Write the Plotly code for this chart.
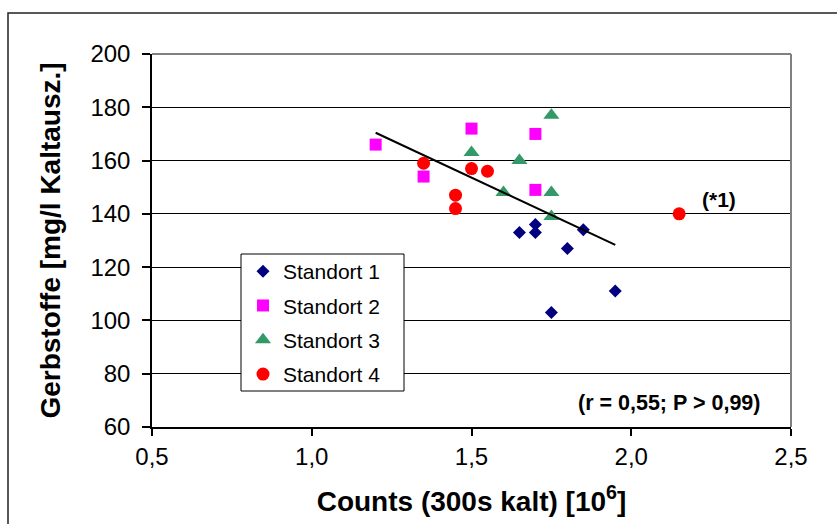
import numpy as np
import plotly.graph_objects as go

# Counts (300s kalt) in 10^6 and Gerbstoffe in mg/l Kaltauszug, per Standort
s1_x = [1.65, 1.70, 1.70, 1.80, 1.85, 1.95, 1.75]
s1_y = [133, 136, 133, 127, 134, 111, 103]

s2_x = [1.20, 1.50, 1.70, 1.35, 1.70]
s2_y = [166, 172, 170, 154, 149]

s3_x = [1.75, 1.50, 1.65, 1.60, 1.75, 1.75]
s3_y = [177, 163, 160, 148, 148, 139]

s4_x = [1.35, 1.50, 1.55, 1.45, 1.45, 2.15]
s4_y = [159, 157, 156, 147, 142, 140]

# the last point of Standort 4 is the marked outlier (*1), left out of the fit
outlier_index = 5

x_ticks = [0.5, 1.0, 1.5, 2.0, 2.5]
y_ticks = [60, 80, 100, 120, 140, 160, 180, 200]

series = [
    ("Standort 1", s1_x, s1_y, "diamond", "#000080", 10),
    ("Standort 2", s2_x, s2_y, "square", "#FF00FF", 12),
    ("Standort 3", s3_x, s3_y, "triangle-up", "#339966", 14),
    ("Standort 4", s4_x, s4_y, "circle", "#FF0000", 13),
]

fig = go.Figure()
for name, xs, ys, sym, col, size in series:
    fig.add_trace(go.Scatter(
        x=xs, y=ys, mode="markers", name=name, legendgroup=name,
        marker=dict(symbol=sym, color=col, size=size, line=dict(width=0)),
    ))

# linear trend over all points except the outlier
fit_x = np.array(s1_x + s2_x + s3_x + [v for i, v in enumerate(s4_x) if i != outlier_index])
fit_y = np.array(s1_y + s2_y + s3_y + [v for i, v in enumerate(s4_y) if i != outlier_index])
slope, intercept = np.polyfit(fit_x, fit_y, 1)
line_x = np.array([fit_x.min(), fit_x.max()])
fig.add_trace(go.Scatter(
    x=line_x, y=slope * line_x + intercept, mode="lines",
    line=dict(color="black", width=2), showlegend=False, hoverinfo="skip",
))

W, H = 837, 524
L, R, T, B = 152, 46, 54, 97
pw, ph = W - L - R, H - T - B


def px_x(v):
    return (v - L) / pw


def px_y(v):
    return (H - B - v) / ph


fig.update_layout(
    width=W, height=H,
    margin=dict(l=L, r=R, t=T, b=B),
    paper_bgcolor="white", plot_bgcolor="white",
    separators=",.",
    font=dict(family="Liberation Sans, Arial, sans-serif", color="black"),
    showlegend=True,
    legend=dict(
        x=px_x(243), y=px_y(251), xanchor="left", yanchor="top",
        bgcolor="rgba(0,0,0,0)", borderwidth=0,
        font=dict(size=21), tracegroupgap=4, itemwidth=30,
    ),
    xaxis=dict(
        range=[0.5, 2.5], tickvals=x_ticks, tickformat=".1f",
        showgrid=False, zeroline=False,
        showline=True, linecolor="black", linewidth=1.5,
        ticks="outside", ticklen=7, tickcolor="black", tickwidth=1.5,
        tickfont=dict(size=24),
        title=dict(text="<b>Counts (300s kalt) [10<sup>6</sup>]</b>",
                   font=dict(size=28), standoff=23),
    ),
    yaxis=dict(
        range=[60, 200], tickvals=y_ticks,
        showgrid=True, gridcolor="black", gridwidth=1, zeroline=False,
        showline=True, linecolor="black", linewidth=1.5,
        ticks="outside", ticklen=8, tickcolor="black", tickwidth=1.5,
        tickfont=dict(size=24), ticklabelstandoff=7,
        title=dict(text="<b>Gerbstoffe [mg/l Kaltausz.]</b>",
                   font=dict(size=28), standoff=22),
    ),
)

# legend box
fig.add_shape(type="rect", xref="paper", yref="paper",
              x0=px_x(241), x1=px_x(404), y0=px_y(391), y1=px_y(254),
              fillcolor="white", line=dict(color="black", width=1), layer="above")

# plot-area frame (top and right) and outer chart frame
fig.add_shape(type="line", xref="paper", yref="paper", x0=0, x1=1, y0=1, y1=1,
              line=dict(color="#808080", width=2), layer="above")
fig.add_shape(type="line", xref="paper", yref="paper", x0=1, x1=1, y0=0, y1=1,
              line=dict(color="#808080", width=2), layer="above")
fig.add_shape(type="rect", xref="paper", yref="paper",
              x0=px_x(8), x1=px_x(W + 20), y0=px_y(H + 20), y1=px_y(13),
              line=dict(color="#222222", width=1.5), layer="above")

fig.add_annotation(x=s4_x[outlier_index] + 0.125, y=s4_y[outlier_index] + 5.3,
                   text="<b>(*1)</b>", showarrow=False, font=dict(size=21))
fig.add_annotation(x=2.117, y=69, text="<b>(r = 0,55; P > 0,99)</b>",
                   showarrow=False, font=dict(size=21.5))

fig.write_html("out.html")
